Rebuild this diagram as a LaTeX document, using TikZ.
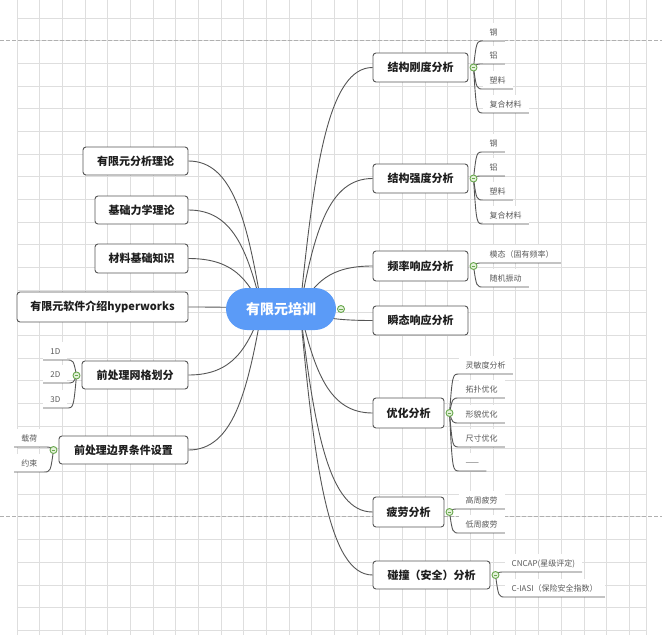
\documentclass[tikz,border=0pt]{standalone}
\usepackage{fontspec}
\setmainfont{Noto Sans CJK SC}
\usetikzlibrary{calc}
\definecolor{gridc}{HTML}{DEDEDE}
\definecolor{dashc}{HTML}{B0B0B0}
\definecolor{linec}{HTML}{555555}
\definecolor{rootc}{HTML}{5B9BF7}
\definecolor{iconc}{HTML}{6AA84F}
\definecolor{iconf}{HTML}{E4F2DA}
\definecolor{txtc}{HTML}{1E1E1E}
\definecolor{subc}{HTML}{5A5A5A}
\pgfdeclarelayer{bg}
\pgfdeclarelayer{mid}
\pgfdeclarelayer{top}
\pgfsetlayers{bg,mid,main,top}
\newcommand\rconn[2]{\draw[conn] let \p0=(#1), \p1=(#2) in (\p0) .. controls ({\x0+0.2*(\x1-\x0)},{\y0+0.6*(\y1-\y0)}) and ({\x0+0.4*(\x1-\x0)},\y1) .. (\p1);}
\newcommand\rsubc[2]{\draw[cconn] let \p0=(#1.center), \p1=(#2.south west) in (\p0) .. controls ({\x0+3pt},\y1) .. ({\x0+10pt},\y1) -- (#2.south east);}
\newcommand\lsubc[2]{\draw[cconn] let \p0=(#1.center), \p1=(#2.south east) in (\p0) .. controls ({\x0-3pt},\y1) .. ({\x0-10pt},\y1) -- (#2.south west);}
\begin{document}
\begin{tikzpicture}[x=1pt,y=-1pt,
 topic/.style={draw=linec, line width=0.9pt, fill=white, rounded corners=3pt, inner sep=0pt, minimum height=29pt, text=txtc, font=\fontsize{11}{13}\selectfont\bfseries},
 rootnode/.style={fill=rootc, rounded corners=21pt, minimum width=110pt, minimum height=42pt, inner sep=0pt, text=white, font=\fontsize{14}{16}\selectfont\bfseries},
 sub/.style={fill=white, inner xsep=7pt, inner ysep=5pt, text height=7.5pt, text depth=0.3pt, text=subc, font=\fontsize{8}{9.5}\selectfont},
 conn/.style={draw=linec, line width=0.9pt},
 cconn/.style={draw=linec, line width=0.9pt},
 icon/.style={circle, draw=iconc, fill=iconf, line width=0.9pt, minimum size=7pt, inner sep=0pt, path picture={\draw[iconc, line width=1pt] ([xshift=1.6pt]path picture bounding box.west) -- ([xshift=-1.6pt]path picture bounding box.east);}},
 pagebreak/.style={draw=dashc, line width=0.8pt, dash pattern=on 4pt off 2pt}
]
\useasboundingbox (0,0) rectangle (662,635);
\begin{pgfonlayer}{bg}
\fill[white] (0,0) rectangle (662,635);
\foreach \i in {0,...,27} \draw[gridc, line width=1pt] ({17+22.68*\i},0) -- ({17+22.68*\i},635);
\draw[gridc, line width=1pt] (646,0) -- (646,635);
\foreach \j in {0,...,27} \draw[gridc, line width=1pt] (17,{18+22.68*\j}) -- (646,{18+22.68*\j});
\draw[pagebreak] (0,40) -- (662,40);
\draw[pagebreak] (0,516) -- (662,516);
\end{pgfonlayer}

% root and topics
\node[rootnode] (root) at (281,309) {有限元培训};
\node[topic, minimum width=95pt] (R1) at (420.5,67.5) {结构刚度分析};
\node[topic, minimum width=95pt] (R2) at (420.5,178.5) {结构强度分析};
\node[topic, minimum width=95pt, minimum height=30pt] (R3) at (420.5,266) {频率响应分析};
\node[topic, minimum width=95pt] (R4) at (420.5,320.5) {瞬态响应分析};
\node[topic, minimum width=71pt, minimum height=30pt] (R5) at (408.5,413) {优化分析};
\node[topic, minimum width=71pt, minimum height=30pt] (R6) at (408.5,512) {疲劳分析};
\node[topic, minimum width=117pt, minimum height=28pt] (R7) at (431.5,575) {碰撞（安全）分析};
\node[topic, minimum width=105pt, minimum height=28pt] (L1) at (135.5,161) {有限元分析理论};
\node[topic, minimum width=93pt, minimum height=28pt] (L2) at (141.5,210) {基础力学理论};
\node[topic, minimum width=93pt] (L3) at (141.5,258.5) {材料基础知识};
\node[topic, minimum width=171pt, minimum height=30pt] (L4) at (102.5,307) {有限元软件介绍hyperworks};
\node[topic, minimum width=106pt, minimum height=28pt] (L5) at (135,375) {前处理网格划分};
\node[topic, minimum width=129pt, minimum height=28pt] (L6) at (123.5,450) {前处理边界条件设置};

% collapse icons
\begin{pgfonlayer}{top}
\node[icon] (i0) at (341,309) {};
\node[icon] (iR1) at (473.5,67.5) {};
\node[icon] (iR2) at (473.5,178.5) {};
\node[icon] (iR3) at (473.5,266) {};
\node[icon] (iR5) at (449.5,413) {};
\node[icon] (iR6) at (449.5,512) {};
\node[icon] (iR7) at (495.5,575) {};
\node[icon] (iL5) at (76.5,375.5) {};
\node[icon] (iL6) at (53.5,450) {};
\end{pgfonlayer}

% sub topics
\node[sub, anchor=south west] (a1) at (482.5,41) {钢};
\node[sub, anchor=south west] (a2) at (482.5,64) {铝};
\node[sub, anchor=south west] (a3) at (482.5,89) {塑料};
\node[sub, anchor=south west] (a4) at (482.5,113) {复合材料};
\node[sub, anchor=south west] (b1) at (482.5,152) {钢};
\node[sub, anchor=south west] (b2) at (482.5,176) {铝};
\node[sub, anchor=south west] (b3) at (482.5,200) {塑料};
\node[sub, anchor=south west] (b4) at (482.5,224) {复合材料};
\node[sub, anchor=south west] (c1) at (482.5,263) {模态（固有频率）};
\node[sub, anchor=south west] (c2) at (482.5,287) {随机振动};
\node[sub, anchor=south west] (d1) at (458.5,374) {灵敏度分析};
\node[sub, anchor=south west] (d2) at (458.5,398) {拓扑优化};
\node[sub, anchor=south west] (d3) at (458.5,423) {形貌优化};
\node[sub, anchor=south west] (d4) at (458.5,447) {尺寸优化};
\node[sub, anchor=south west] (d5) at (458.5,471) {——};
\node[sub, anchor=south west] (e1) at (458.5,509) {高周疲劳};
\node[sub, anchor=south west] (e2) at (458.5,533) {低周疲劳};
\node[sub, anchor=south west] (f1) at (504.5,572) {CNCAP(星级评定)};
\node[sub, anchor=south west] (f2) at (504.5,597) {C-IASI（保险安全指数）};
\node[sub, anchor=south east] (g1) at (67.5,360) {1D};
\node[sub, anchor=south east] (g2) at (67.5,383) {2D};
\node[sub, anchor=south east] (g3) at (67.5,408) {3D};
\node[sub, anchor=south east] (h1) at (44.5,447) {载荷};
\node[sub, anchor=south east] (h2) at (44.5,472) {约束};

% root connectors
\coordinate (rsR) at (300,309);
\coordinate (rsL) at (262,309);
\begin{pgfonlayer}{mid}
\rconn{rsR}{R1.west}
\rconn{rsR}{R2.west}
\rconn{rsR}{R3.west}
\rconn{rsR}{R4.west}
\rconn{rsR}{R5.west}
\rconn{rsR}{R6.west}
\rconn{rsR}{R7.west}
\rconn{rsL}{L1.east}
\rconn{rsL}{L2.east}
\rconn{rsL}{L3.east}
\rconn{rsL}{L4.east}
\rconn{rsL}{L5.east}
\rconn{rsL}{L6.east}
\end{pgfonlayer}

% sub connectors
\rsubc{iR1}{a1}\rsubc{iR1}{a2}\rsubc{iR1}{a3}\rsubc{iR1}{a4}
\rsubc{iR2}{b1}\rsubc{iR2}{b2}\rsubc{iR2}{b3}\rsubc{iR2}{b4}
\rsubc{iR3}{c1}\rsubc{iR3}{c2}
\rsubc{iR5}{d1}\rsubc{iR5}{d2}\rsubc{iR5}{d3}\rsubc{iR5}{d4}\rsubc{iR5}{d5}
\rsubc{iR6}{e1}\rsubc{iR6}{e2}
\rsubc{iR7}{f1}\rsubc{iR7}{f2}
\lsubc{iL5}{g1}\lsubc{iL5}{g2}\lsubc{iL5}{g3}
\lsubc{iL6}{h1}\lsubc{iL6}{h2}
\end{tikzpicture}
\end{document}
